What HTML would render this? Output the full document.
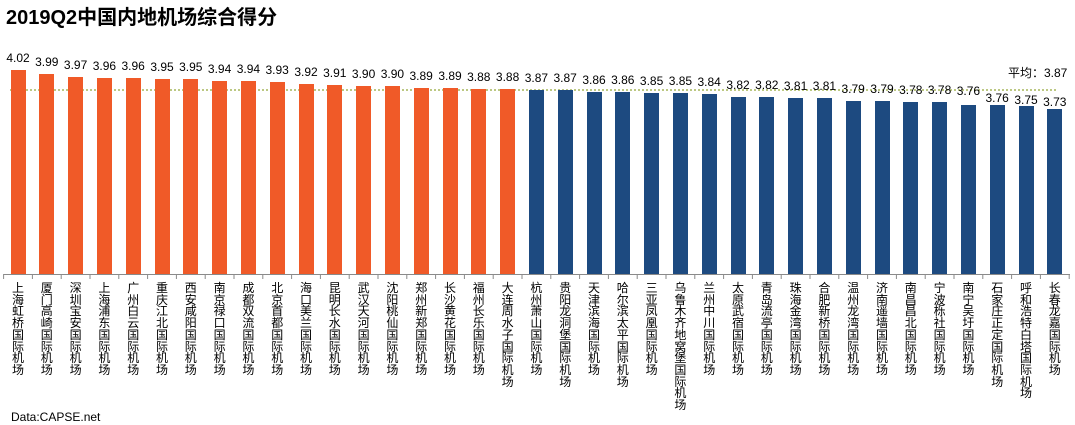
<!DOCTYPE html>
<html><head><meta charset="utf-8"><style>
*{margin:0;padding:0}
body{width:1075px;height:425px;background:#fff;position:relative;overflow:hidden;font-family:"Liberation Sans","Noto Sans CJK SC",sans-serif;}
.t{position:absolute;left:6px;top:1px;font-size:20px;font-weight:bold;color:#000;}
.b{position:absolute;width:15px;bottom:151px;}
.o{background:#f05a28}.n{background:#1d4a80}
.v{position:absolute;width:40px;text-align:center;font-size:12px;color:#000;}
.l{position:absolute;top:282px;width:13px;font-size:12px;line-height:11.7px;color:#000;word-break:break-all;font-family:"Noto Sans CJK SC",sans-serif;}
</style></head><body>
<div class="t">2019Q2中国内地机场综合得分</div>
<svg width="1075" height="425" style="position:absolute;left:0;top:0">
<line x1="10" y1="90" x2="1057" y2="90" stroke="#a5b55a" stroke-width="1.5" stroke-dasharray="2,2"/>
<line x1="4" y1="274.5" x2="1070" y2="274.5" stroke="#8a8a8a" stroke-width="1"/>
<g stroke="#8a8a8a" stroke-width="1">
<line x1="3.6" y1="274" x2="3.6" y2="279"/><line x1="32.4" y1="274" x2="32.4" y2="279"/><line x1="61.2" y1="274" x2="61.2" y2="279"/><line x1="90" y1="274" x2="90" y2="279"/><line x1="118.8" y1="274" x2="118.8" y2="279"/><line x1="147.6" y1="274" x2="147.6" y2="279"/><line x1="176.4" y1="274" x2="176.4" y2="279"/><line x1="205.2" y1="274" x2="205.2" y2="279"/><line x1="234" y1="274" x2="234" y2="279"/><line x1="262.8" y1="274" x2="262.8" y2="279"/><line x1="291.6" y1="274" x2="291.6" y2="279"/><line x1="320.4" y1="274" x2="320.4" y2="279"/><line x1="349.2" y1="274" x2="349.2" y2="279"/><line x1="378" y1="274" x2="378" y2="279"/><line x1="406.8" y1="274" x2="406.8" y2="279"/><line x1="435.6" y1="274" x2="435.6" y2="279"/><line x1="464.4" y1="274" x2="464.4" y2="279"/><line x1="493.2" y1="274" x2="493.2" y2="279"/><line x1="522" y1="274" x2="522" y2="279"/><line x1="550.8" y1="274" x2="550.8" y2="279"/><line x1="579.6" y1="274" x2="579.6" y2="279"/><line x1="608.4" y1="274" x2="608.4" y2="279"/><line x1="637.2" y1="274" x2="637.2" y2="279"/><line x1="666" y1="274" x2="666" y2="279"/><line x1="694.8" y1="274" x2="694.8" y2="279"/><line x1="723.6" y1="274" x2="723.6" y2="279"/><line x1="752.4" y1="274" x2="752.4" y2="279"/><line x1="781.2" y1="274" x2="781.2" y2="279"/><line x1="810" y1="274" x2="810" y2="279"/><line x1="838.8" y1="274" x2="838.8" y2="279"/><line x1="867.6" y1="274" x2="867.6" y2="279"/><line x1="896.4" y1="274" x2="896.4" y2="279"/><line x1="925.2" y1="274" x2="925.2" y2="279"/><line x1="954" y1="274" x2="954" y2="279"/><line x1="982.8" y1="274" x2="982.8" y2="279"/><line x1="1011.6" y1="274" x2="1011.6" y2="279"/><line x1="1040.4" y1="274" x2="1040.4" y2="279"/><line x1="1069.2" y1="274" x2="1069.2" y2="279"/>
</g>
</svg>
<div class="b o" style="left:10.5px;top:70px"></div>
<div class="b o" style="left:39.3px;top:74px"></div>
<div class="b o" style="left:68.1px;top:76.7px"></div>
<div class="b o" style="left:96.9px;top:78.1px"></div>
<div class="b o" style="left:125.7px;top:78.1px"></div>
<div class="b o" style="left:154.5px;top:79.4px"></div>
<div class="b o" style="left:183.3px;top:79.4px"></div>
<div class="b o" style="left:212.1px;top:80.8px"></div>
<div class="b o" style="left:240.9px;top:80.8px"></div>
<div class="b o" style="left:269.7px;top:82.1px"></div>
<div class="b o" style="left:298.5px;top:83.5px"></div>
<div class="b o" style="left:327.3px;top:84.8px"></div>
<div class="b o" style="left:356.1px;top:86.1px"></div>
<div class="b o" style="left:384.9px;top:86.1px"></div>
<div class="b o" style="left:413.7px;top:87.5px"></div>
<div class="b o" style="left:442.5px;top:87.5px"></div>
<div class="b o" style="left:471.3px;top:88.8px"></div>
<div class="b o" style="left:500.1px;top:88.8px"></div>
<div class="b n" style="left:528.9px;top:90.2px"></div>
<div class="b n" style="left:557.7px;top:90.2px"></div>
<div class="b n" style="left:586.5px;top:91.5px"></div>
<div class="b n" style="left:615.3px;top:91.5px"></div>
<div class="b n" style="left:644.1px;top:92.9px"></div>
<div class="b n" style="left:672.9px;top:92.9px"></div>
<div class="b n" style="left:701.7px;top:94.2px"></div>
<div class="b n" style="left:730.5px;top:96.9px"></div>
<div class="b n" style="left:759.3px;top:96.9px"></div>
<div class="b n" style="left:788.1px;top:98.2px"></div>
<div class="b n" style="left:816.9px;top:98.2px"></div>
<div class="b n" style="left:845.7px;top:100.9px"></div>
<div class="b n" style="left:874.5px;top:100.9px"></div>
<div class="b n" style="left:903.3px;top:102.3px"></div>
<div class="b n" style="left:932.1px;top:102.3px"></div>
<div class="b n" style="left:960.9px;top:105px"></div>
<div class="b n" style="left:989.7px;top:105px"></div>
<div class="b n" style="left:1018.5px;top:106.3px"></div>
<div class="b n" style="left:1047.3px;top:109px"></div>

<div class="v" style="left:-2px;top:51px">4.02</div>
<div class="v" style="left:26.8px;top:55px">3.99</div>
<div class="v" style="left:55.6px;top:57.7px">3.97</div>
<div class="v" style="left:84.4px;top:59.1px">3.96</div>
<div class="v" style="left:113.2px;top:59.1px">3.96</div>
<div class="v" style="left:142px;top:60.4px">3.95</div>
<div class="v" style="left:170.8px;top:60.4px">3.95</div>
<div class="v" style="left:199.6px;top:61.8px">3.94</div>
<div class="v" style="left:228.4px;top:61.8px">3.94</div>
<div class="v" style="left:257.2px;top:63.1px">3.93</div>
<div class="v" style="left:286px;top:64.5px">3.92</div>
<div class="v" style="left:314.8px;top:65.8px">3.91</div>
<div class="v" style="left:343.6px;top:67.1px">3.90</div>
<div class="v" style="left:372.4px;top:67.1px">3.90</div>
<div class="v" style="left:401.2px;top:68.5px">3.89</div>
<div class="v" style="left:430px;top:68.5px">3.89</div>
<div class="v" style="left:458.8px;top:69.8px">3.88</div>
<div class="v" style="left:487.6px;top:69.8px">3.88</div>
<div class="v" style="left:516.4px;top:71.2px">3.87</div>
<div class="v" style="left:545.2px;top:71.2px">3.87</div>
<div class="v" style="left:574px;top:72.5px">3.86</div>
<div class="v" style="left:602.8px;top:72.5px">3.86</div>
<div class="v" style="left:631.6px;top:73.9px">3.85</div>
<div class="v" style="left:660.4px;top:73.9px">3.85</div>
<div class="v" style="left:689.2px;top:75.2px">3.84</div>
<div class="v" style="left:718px;top:77.9px">3.82</div>
<div class="v" style="left:746.8px;top:77.9px">3.82</div>
<div class="v" style="left:775.6px;top:79.2px">3.81</div>
<div class="v" style="left:804.4px;top:79.2px">3.81</div>
<div class="v" style="left:833.2px;top:81.9px">3.79</div>
<div class="v" style="left:862px;top:81.9px">3.79</div>
<div class="v" style="left:890.8px;top:83px">3.78</div>
<div class="v" style="left:919.6px;top:83px">3.78</div>
<div class="v" style="left:948.4px;top:84px">3.76</div>
<div class="v" style="left:977.2px;top:91px">3.76</div>
<div class="v" style="left:1006px;top:93px">3.75</div>
<div class="v" style="left:1034.8px;top:95px">3.73</div>
<div style="position:absolute;left:1008px;top:64px;font-size:12px;">平均：3.87</div>

<div class="l" style="left:12px">上海虹桥国际机场</div>
<div class="l" style="left:40.8px">厦门高崎国际机场</div>
<div class="l" style="left:69.6px">深圳宝安国际机场</div>
<div class="l" style="left:98.4px">上海浦东国际机场</div>
<div class="l" style="left:127.2px">广州白云国际机场</div>
<div class="l" style="left:156px">重庆江北国际机场</div>
<div class="l" style="left:184.8px">西安咸阳国际机场</div>
<div class="l" style="left:213.6px">南京禄口国际机场</div>
<div class="l" style="left:242.4px">成都双流国际机场</div>
<div class="l" style="left:271.2px">北京首都国际机场</div>
<div class="l" style="left:300px">海口美兰国际机场</div>
<div class="l" style="left:328.8px">昆明长水国际机场</div>
<div class="l" style="left:357.6px">武汉天河国际机场</div>
<div class="l" style="left:386.4px">沈阳桃仙国际机场</div>
<div class="l" style="left:415.2px">郑州新郑国际机场</div>
<div class="l" style="left:444px">长沙黄花国际机场</div>
<div class="l" style="left:472.8px">福州长乐国际机场</div>
<div class="l" style="left:501.6px">大连周水子国际机场</div>
<div class="l" style="left:530.4px">杭州萧山国际机场</div>
<div class="l" style="left:559.2px">贵阳龙洞堡国际机场</div>
<div class="l" style="left:588px">天津滨海国际机场</div>
<div class="l" style="left:616.8px">哈尔滨太平国际机场</div>
<div class="l" style="left:645.6px">三亚凤凰国际机场</div>
<div class="l" style="left:674.4px">乌鲁木齐地窝堡国际机场</div>
<div class="l" style="left:703.2px">兰州中川国际机场</div>
<div class="l" style="left:732px">太原武宿国际机场</div>
<div class="l" style="left:760.8px">青岛流亭国际机场</div>
<div class="l" style="left:789.6px">珠海金湾国际机场</div>
<div class="l" style="left:818.4px">合肥新桥国际机场</div>
<div class="l" style="left:847.2px">温州龙湾国际机场</div>
<div class="l" style="left:876px">济南遥墙国际机场</div>
<div class="l" style="left:904.8px">南昌昌北国际机场</div>
<div class="l" style="left:933.6px">宁波栎社国际机场</div>
<div class="l" style="left:962.4px">南宁吴圩国际机场</div>
<div class="l" style="left:991.2px">石家庄正定国际机场</div>
<div class="l" style="left:1020px">呼和浩特白塔国际机场</div>
<div class="l" style="left:1048.8px">长春龙嘉国际机场</div>

<div style="position:absolute;left:11px;top:410px;font-size:12px;color:#000;">Data:CAPSE.net</div>
</body></html>
